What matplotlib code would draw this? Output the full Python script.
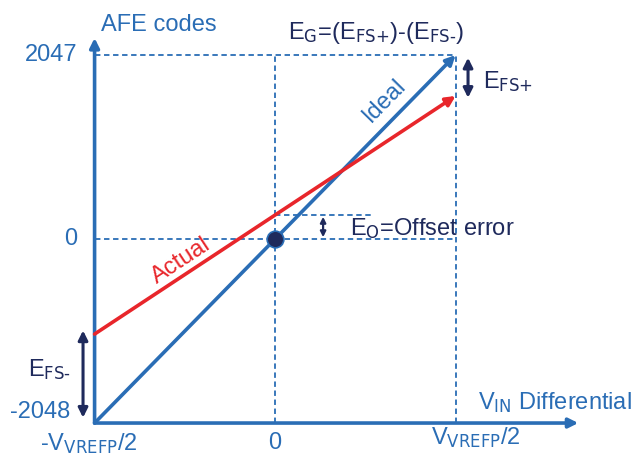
import numpy as np
import matplotlib
matplotlib.use("Agg")
import matplotlib.pyplot as plt

plt.rcParams['font.family'] = ['Liberation Sans', 'DejaVu Sans']
plt.rcParams['mathtext.default'] = 'regular'

# chart values (x in units of VVREFP/2, y in AFE codes)
x_ends = [-1.0, 1.0]
ideal_codes = [-2048, 2047]
actual_codes = [-1058, 1592]
offset_code = 267
code_ticks = [2047, 0, -2048]
code_labels = ['2047', '0', '-2048']
vin_ticks = [-1.0, 0.0, 1.0]
vin_labels = [r'-V$_\text{VREFP}$/2', '0', r'V$_\text{VREFP}$/2']

blue = '#2a6db5'
red = '#e8262b'
navy = '#1f2a5c'

fig = plt.figure(figsize=(6.35, 4.57), dpi=100)
ax = fig.add_axes([0, 0, 1, 1])
ax.set_xlim(-1.524, 1.994)
ax.set_ylim(-2426, 2660)
ax.axis('off')

fs = 17
dash = (0, (3, 2))

# guide lines
ax.plot([x_ends[0], x_ends[1]], [ideal_codes[1]] * 2, color=blue, lw=1.3, ls=dash)
ax.plot([x_ends[0], x_ends[1]], [0, 0], color=blue, lw=1.3, ls=dash)
ax.plot([0, 0], [ideal_codes[0], ideal_codes[1]], color=blue, lw=1.3, ls=dash)
ax.plot([x_ends[1], x_ends[1]], [ideal_codes[0], ideal_codes[1]], color=blue, lw=1.3, ls=dash)
ax.plot([0, 0.54], [offset_code] * 2, color=blue, lw=1.3, ls=dash)

# axes arrows
ax.annotate('', xy=(x_ends[0], 2237), xytext=(x_ends[0], ideal_codes[0]),
            arrowprops=dict(arrowstyle='-|>', color=blue, lw=2.6, mutation_scale=14,
                            shrinkA=0, shrinkB=0))
ax.annotate('', xy=(1.68, ideal_codes[0]), xytext=(x_ends[0], ideal_codes[0]),
            arrowprops=dict(arrowstyle='-|>', color=blue, lw=2.6, mutation_scale=14,
                            shrinkA=0, shrinkB=0))

# ideal and actual transfer lines
ax.annotate('', xy=(x_ends[1], ideal_codes[1]), xytext=(x_ends[0], ideal_codes[0]),
            arrowprops=dict(arrowstyle='-|>', color=blue, lw=2.6, mutation_scale=14,
                            shrinkA=0, shrinkB=0))
ax.annotate('', xy=(x_ends[1], actual_codes[1]), xytext=(x_ends[0], actual_codes[0]),
            arrowprops=dict(arrowstyle='-|>', color=red, lw=2.6, mutation_scale=14,
                            shrinkA=0, shrinkB=0))
ax.plot([0], [0], 'o', ms=12, color=navy, mec=blue, mew=1.2, zorder=5)

# error arrows
def double_arrow(x, y0, y1, ms=14, lw=2.2):
    ax.annotate('', xy=(x, y1), xytext=(x, y0),
                arrowprops=dict(arrowstyle='<|-|>', color=navy, lw=lw, mutation_scale=ms,
                                shrinkA=0, shrinkB=0))

double_arrow(1.069, ideal_codes[1] - 30, actual_codes[1] - 20)
double_arrow(-1.064, actual_codes[0] + 40, ideal_codes[0] + 60)
double_arrow(0.266, offset_code - 20, 20, ms=8, lw=1.6)

# tick labels
for v, lab in zip(code_ticks, code_labels):
    yv = v if v != -2048 else -1926
    ax.text(-1.094 if v != -2048 else -1.136, yv, lab, ha='right', va='center',
            fontsize=fs, color=blue)
ax.text(vin_ticks[0] - 0.03, -2271, vin_labels[0], ha='center', va='center', fontsize=fs, color=blue)
ax.text(vin_ticks[1], -2271, vin_labels[1], ha='center', va='center', fontsize=fs, color=blue)
ax.text(vin_ticks[2] + 0.11, -2204, vin_labels[2], ha='center', va='center', fontsize=fs, color=blue)

ax.text(-0.964, 2382, 'AFE codes', ha='left', va='center', fontsize=fs, color=blue)
ax.text(1.125, -1825, r'V$_\text{IN}$ Differential', ha='left', va='center', fontsize=fs, color=blue)

ax.text(0.072, 2293, r'E$_\text{G}$=(E$_\text{FS+}$)-(E$_\text{FS-}$)', ha='left', va='center',
        fontsize=fs, color=navy)
ax.text(1.152, 1748, r'E$_\text{FS+}$', ha='left', va='center', fontsize=fs, color=navy)
ax.text(0.416, 122, r'E$_\text{O}$=Offset error', ha='left', va='center', fontsize=fs, color=navy)
ax.text(-1.368, -1458, r'E$_\text{FS-}$', ha='left', va='center', fontsize=fs, color=navy)

# labels along the lines, angle taken from display space
def line_angle(xs, ys):
    p = ax.transData.transform(np.column_stack([xs, ys]))
    return np.degrees(np.arctan2(p[1, 1] - p[0, 1], p[1, 0] - p[0, 0]))

xi = 0.68
yi = np.interp(xi, x_ends, ideal_codes)
ax.annotate('Ideal', xy=(xi, yi), xytext=(-4, 4), textcoords='offset points',
            rotation=line_angle(x_ends, ideal_codes), rotation_mode='anchor',
            ha='center', va='bottom', fontsize=fs, color=blue)
xa = -0.47
ya = np.interp(xa, x_ends, actual_codes)
ax.annotate('Actual', xy=(xa, ya), xytext=(-2, 1), textcoords='offset points',
            rotation=line_angle(x_ends, actual_codes), rotation_mode='anchor',
            ha='center', va='bottom', fontsize=fs, color=red)

fig.savefig('out.png', dpi=100)
